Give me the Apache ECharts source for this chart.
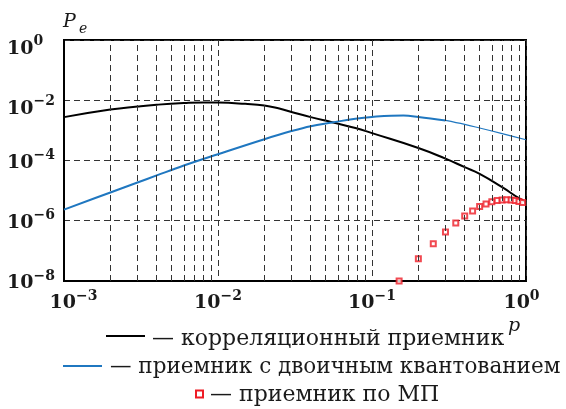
<!DOCTYPE html>
<html>
<head>
<meta charset="utf-8">
<script src="https://cdn.jsdelivr.net/npm/echarts@6/dist/echarts.min.js"></script>
<style>
  html, body { margin: 0; padding: 0; background: #fff; }
  #chart { width: 566px; height: 409px; }
</style>
</head>
<body>
<div id="chart"></div>
<script>
// ---- data ----
const corrP = [0.001, 0.002, 0.003, 0.004, 0.006, 0.008, 0.01, 0.015, 0.02, 0.025, 0.03, 0.04, 0.055, 0.078, 0.1, 0.2, 0.3, 0.4, 0.5, 0.7, 0.9, 1.0];
const corrV = [2.75e-3, 4.9e-3, 6.2e-3, 7.1e-3, 8.1e-3, 8.5e-3, 8.4e-3, 7.6e-3, 6.7e-3, 5.3e-3, 4.1e-3, 2.75e-3, 1.86e-3, 1.2e-3, 8.1e-4, 2.6e-4, 1.15e-4, 6.0e-5, 3.6e-5, 1.3e-5, 5.6e-6, 4.2e-6];

const binP = [0.001, 0.002, 0.003, 0.004, 0.006, 0.01, 0.02, 0.03, 0.04, 0.055, 0.078, 0.1, 0.16, 0.2, 0.3, 0.4, 0.5, 0.7, 1.0];
const binV = [2.35e-6, 8.7e-6, 1.86e-5, 3.2e-5, 6.8e-5, 1.62e-4, 5.1e-4, 9.5e-4, 1.38e-3, 1.82e-3, 2.45e-3, 2.8e-3, 3.1e-3, 2.8e-3, 2.14e-3, 1.58e-3, 1.2e-3, 7.8e-4, 4.9e-4];

const mlP = [0.15, 0.2, 0.25, 0.3, 0.35, 0.4, 0.45, 0.5, 0.55, 0.6, 0.65, 0.7, 0.75, 0.8, 0.85, 0.9, 0.95];
const mlV = [1.0e-8, 5.5e-8, 1.74e-7, 4.27e-7, 8.5e-7, 1.45e-6, 2.09e-6, 2.95e-6, 3.63e-6, 4.27e-6, 4.68e-6, 4.9e-6, 5.0e-6, 4.9e-6, 4.68e-6, 4.37e-6, 4.07e-6];

const xMinorGrid = [0.002, 0.003, 0.004, 0.005, 0.006, 0.007, 0.008, 0.009,
                    0.02, 0.03, 0.04, 0.05, 0.06, 0.07, 0.08, 0.09,
                    0.2, 0.3, 0.4, 0.5, 0.6, 0.7, 0.8, 0.9];

const legendTexts = ['— корреляционный приемник', '— приемник с двоичным квантованием', '— приемник по МП'];
const yName = 'P';
const yNameSub = 'e';
const xName = 'p';

// ---- styles ----
const SERIF = '"DejaVu Serif", serif';
const TXT = '#1a1a1a';
const BLUE = '#1f77c0';
const RED = '#ee1c25';
const DASH = [6, 4];

const binSplit = binP.indexOf(0.3);
const pair = (xs, ys) => xs.map((x, i) => [x, ys[i]]);

const bBase = { fontFamily: SERIF, fontSize: 19, fontWeight: 'bold', lineHeight: 24, verticalAlign: 'bottom', color: TXT };
const sBase = { fontFamily: SERIF, fontSize: 14, fontWeight: 'bold', lineHeight: 14, verticalAlign: 'top', color: TXT };
const rich = {
  b: bBase,
  s: sBase,
  bL: Object.assign({}, bBase, { padding: [0, 0, 0, 19] }),
  sR: Object.assign({}, sBase, { padding: [0, 9, 0, 0] }),
  gap: { fontSize: 10, lineHeight: 13 }
};
function expOf(v) { return Math.round(Math.log10(v)); }
function supText(e) { return e === 0 ? '0' : '\u2212' + (-e); }

const chart = echarts.init(document.getElementById('chart'), null, { renderer: 'canvas' });

const option = {
  animation: false,
  backgroundColor: '#fff',
  grid: { left: 64, right: 40, top: 40, bottom: 128, show: true, borderColor: '#000', borderWidth: 2, backgroundColor: 'transparent' },
  xAxis: {
    type: 'log', logBase: 10, min: 1e-3, max: 1,
    axisLine: { show: true, lineStyle: { color: '#000', width: 2 } },
    axisTick: { show: false },
    axisLabel: {
      margin: 8,
      formatter: function (v) {
        const e = expOf(v);
        if (e === -3) return '{bL|10}{s|' + supText(e) + '}';
        if (e === 0) return '{b|10}{sR|' + supText(e) + '}';
        return '{b|10}{s|' + supText(e) + '}';
      },
      rich: rich
    },
    splitLine: { show: true, lineStyle: { color: '#333', width: 1, type: DASH } }
  },
  yAxis: {
    type: 'log', logBase: 10, min: 1e-8, max: 1,
    axisLine: { show: true, lineStyle: { color: '#000', width: 2 } },
    axisTick: { show: false },
    axisLabel: {
      align: 'left', margin: 57,
      formatter: function (v) {
        const e = expOf(v);
        if (e % 2 !== 0) return '';
        const main = '{b|10}{s|' + supText(e) + '}';
        if (e === 0 || e === -2) return '{gap| }\n' + main;
        return main;
      },
      rich: rich
    },
    splitLine: { show: true, lineStyle: { color: ['#333', 'rgba(0,0,0,0)'], width: 1, type: DASH } }
  },
  series: [
    {
      type: 'line', name: 'minor grid', data: [[1e-3, 1e-8]], symbol: 'none', silent: true, z: 1,
      lineStyle: { width: 0 },
      markLine: {
        silent: true, symbol: ['none', 'none'], label: { show: false }, precision: 8,
        lineStyle: { color: '#333', width: 1, type: DASH },
        emphasis: { disabled: true },
        data: xMinorGrid.map(v => ({ xAxis: v }))
      }
    },
    {
      type: 'line', name: legendTexts[0], data: pair(corrP, corrV), smooth: 0.5, symbol: 'none', z: 3,
      lineStyle: { color: '#000', width: 2 }
    },
    {
      type: 'line', name: legendTexts[1], data: pair(binP, binV).slice(0, binSplit + 1), smooth: 0.4, symbol: 'none', z: 3,
      lineStyle: { color: BLUE, width: 2 }
    },
    {
      type: 'line', name: legendTexts[1] + ' ', data: pair(binP, binV).slice(binSplit), smooth: 0.4, symbol: 'none', z: 3,
      lineStyle: { color: BLUE, width: 1.2 }
    },
    {
      type: 'scatter', name: legendTexts[2], data: pair(mlP, mlV), symbol: 'rect', symbolSize: 5, clip: false, z: 4,
      itemStyle: { color: '#fff', borderColor: RED, borderWidth: 2 }
    }
  ],
  graphic: [
    { type: 'text', x: 63, y: 22, style: { text: yName, font: 'italic 19px ' + SERIF, fill: TXT, verticalAlign: 'middle', align: 'left' } },
    { type: 'text', x: 79, y: 29, style: { text: yNameSub, font: 'italic 14px ' + SERIF, fill: TXT, verticalAlign: 'middle', align: 'left' } },
    { type: 'text', x: 508, y: 326, style: { text: xName, font: 'italic 19px ' + SERIF, fill: TXT, verticalAlign: 'middle', align: 'left' } },

    { type: 'line', shape: { x1: 106, y1: 336, x2: 145, y2: 336 }, style: { stroke: '#000', lineWidth: 2 } },
    { type: 'text', x: 152, y: 339, style: { text: legendTexts[0], font: '22px ' + SERIF, fill: TXT, verticalAlign: 'middle', align: 'left' } },

    { type: 'line', shape: { x1: 63, y1: 366, x2: 102, y2: 366 }, style: { stroke: BLUE, lineWidth: 2 } },
    { type: 'text', x: 110, y: 367, style: { text: legendTexts[1], font: '21.5px ' + SERIF, fill: TXT, verticalAlign: 'middle', align: 'left' } },

    { type: 'rect', shape: { x: 196, y: 390.5, width: 7, height: 7 }, style: { fill: '#fff', stroke: RED, lineWidth: 2 } },
    { type: 'text', x: 210, y: 395, style: { text: legendTexts[2], font: '22px ' + SERIF, fill: TXT, verticalAlign: 'middle', align: 'left' } }
  ]
};

chart.setOption(option);
</script>
</body>
</html>
